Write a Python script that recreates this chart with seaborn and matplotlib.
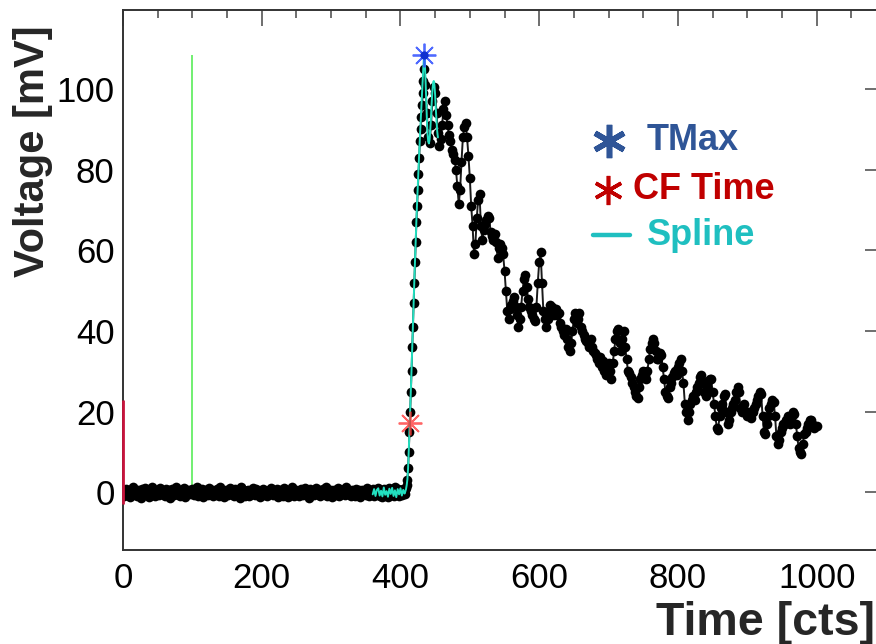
import numpy as np
import pandas as pd
import matplotlib
matplotlib.use("Agg")
import matplotlib.pyplot as plt
import seaborn as sns

# ---------------- data ----------------
# baseline samples, t = 0..406 step 2
baseline_v = [
    0.2, -0.8, 0.9, -0.3, 0.6, -1.1, 0.4, 1.2, -0.5, 0.1,
    -0.9, 0.7, 0.3, -1.4, 0.8, -0.2, 1.0, -0.6, 0.2, -1.2,
    0.5, 1.3, -0.4, -0.9, 0.6, 0.1, -0.7, 1.1, -0.3, 0.4,
    -1.0, 0.8, -0.1, 0.5, -1.3, 0.9, 0.2, -0.6, 1.4, -0.4,
    0.3, -0.8, 0.7, -0.2, 1.0, -1.1, 0.4, 0.6, -0.5, -0.1,
    0.9, -0.7, 0.2, 1.2, -0.9, 0.3, -0.4, 0.8, -1.2, 0.5,
    0.1, -0.6, 1.1, -0.3, 0.7, -1.0, 0.4, -0.2, 0.9, -0.8,
    1.3, -0.5, 0.2, -1.1, 0.6, 0.3, -0.7, 1.0, -0.4, 0.5,
    -0.9, 0.8, -0.1, 0.4, -1.3, 1.2, -0.2, 0.6, -0.8, 0.1,
    0.7, -1.0, 0.3, -0.5, 1.1, -0.6, 0.9, -0.3, 0.2, -1.2,
    0.4, 0.8, -0.6, 0.1, -1.0, 0.7, -0.2, 1.1, -0.7, 0.3,
    -0.4, 0.9, -1.2, 0.5, 0.2, -0.8, 1.0, -0.3, 0.6, -1.1,
    0.3, -0.5, 1.2, -0.9, 0.1, 0.7, -0.4, -1.0, 0.8, 0.2,
    -0.6, 1.1, -0.2, 0.5, -1.3, 0.9, -0.1, 0.4, -0.7, 1.0,
    -0.3, 0.6, -1.0, 0.2, 0.8, -0.5, 1.3, -0.8, 0.1, -0.4,
    0.7, -1.1, 0.5, 0.3, -0.6, 1.0, -0.9, 0.2, -0.2, 0.8,
    -0.7, 1.2, -0.4, 0.1, -1.0, 0.6, 0.4, -0.8, 0.9, -0.3,
    0.5, -1.2, 0.7, -0.1, 0.3, -0.6, 1.0, -0.9, 0.4, -0.5,
    0.8, -1.0, 0.6, -0.2, 1.1, -0.8, 0.3, -1.1, 0.9, -0.4,
    0.6, -1.2, 1.0, -0.6, 0.4, -0.9, 1.2, -0.5, 0.8, -1.0,
    0.5, -0.7, 0.9, -0.3,
]
# rising edge, t = 407..434 step 1
rise_v = [0.6, 1.0, 1.8, 3.0, 6.0, 10.0, 15.0, 20.0, 25.0, 30.0,
          36.0, 41.0, 47.0, 52.0, 57.0, 62.0, 67.0, 71.0, 75.0, 79.0,
          83.0, 87.0, 90.0, 93.0, 96.0, 99.0, 102.0, 105.0]
# tail, t = 436..1000 step 2
tail_v = [
    101, 94, 88, 86.5, 91, 97, 100.5, 99, 94, 89,
    86, 87.5, 91, 95, 97, 93.5, 91, 88.5, 87, 85,
    84, 82.5, 80, 76, 71.5, 75, 82, 88, 90.5, 91.5,
    88, 83.5, 78, 71, 66, 59, 61.5, 68, 72.5, 74,
    66, 62.5, 65, 66.5, 67.5, 68.5, 68, 64.5, 63.5, 62.5,
    64, 62, 58, 60.5, 61.5, 60.5, 59, 55, 50, 45,
    43, 45.5, 46.5, 47.5, 48.5, 46, 44, 41, 43, 46,
    50, 53, 54, 51, 48, 46, 45, 44, 43, 42.5,
    46, 52, 57, 59.5, 52, 45, 43, 41, 43, 45,
    46.5, 46, 45, 44, 45.5, 44, 44.5, 42, 41, 40,
    39, 40.5, 38, 36, 35, 37, 40, 43, 44.5, 42,
    43, 44.5, 41, 40, 39, 38, 37.5, 37, 36, 38,
    36, 35, 34.5, 34, 33, 32, 33.5, 31, 32.5, 30,
    29, 30.5, 32, 30, 28, 32, 35, 38, 40, 40.5,
    37, 35, 38, 40, 36, 33, 30, 29.5, 28.5, 27,
    26, 25, 24, 23.5, 26, 28, 29, 30, 29, 28,
    30, 33, 35.5, 37, 38, 37, 35, 33, 33, 34.5,
    34, 31, 28, 25, 24, 23.5, 26, 27, 28.5, 29.5,
    30, 29, 31, 32, 33, 30, 27, 22, 20, 18,
    20, 22, 23, 24, 23, 25, 26, 27, 28.5, 29,
    27, 25, 24, 26, 27.5, 28, 28, 25, 22, 19,
    16, 15.5, 19, 21, 22, 24, 24.5, 20, 17, 18,
    20, 21, 22, 23, 25, 26, 25, 21, 20, 21,
    22, 20, 19, 20, 19, 18.5, 20, 21, 22, 23,
    24, 25, 24.5, 19, 15, 14.5, 17, 19, 21, 22,
    23, 22.5, 19, 14, 12, 13, 15, 16, 17, 17,
    18, 19, 18, 17, 19, 20, 19.5, 17, 14, 11,
    10, 9.5, 12, 14.5, 15, 16, 17, 18, 18, 17,
    16, 16.5, 16.5,
]
baseline_t = np.arange(0, 2 * len(baseline_v), 2)
rise_t = np.arange(407, 407 + len(rise_v))
tail_t = np.arange(436, 436 + 2 * len(tail_v), 2)

# spline fit around the pulse
spline_t = [360, 362, 364, 366, 368, 370, 372, 374, 376, 378, 380, 382, 384,
            386, 388, 390, 392, 394, 396, 398, 400, 402, 404, 406,
            407, 408, 409, 410, 411, 412, 413, 414, 415, 416, 417, 418, 419,
            420, 421, 422, 423, 424, 425, 426, 427, 428, 429, 430, 431, 432,
            433, 434, 435, 436, 437, 438, 439, 440, 441, 442, 443, 444, 445,
            446, 447, 448, 449, 450, 451, 452, 453, 454]
spline_v = [-0.5, 0.8, -0.9, 0.6, 1.0, -0.8, 0.4, -1.0, 1.2, -0.6, 0.3, -1.1,
            0.9, -0.4, 1.1, -0.9, 0.5, -1.2, 0.8, -0.5, 1.0, -0.8, 0.6, -0.3,
            0.2, 0.8, 1.8, 3.2, 6.0, 10.5, 15.5, 20.5, 25.5, 30.5, 36.0, 41.5,
            47.0, 52.5, 57.5, 62.5, 67.5, 72.0, 76.0, 80.0, 84.0, 88.0, 91.5,
            95.0, 98.5, 102.0, 105.5, 108.4, 107.0, 103.0, 98.0, 93.0, 89.0,
            87.0, 86.5, 87.5, 90.0, 93.0, 96.5, 99.5, 101.5, 102.0, 101.0,
            98.5, 95.0, 92.0, 89.5, 88.0]

tmax_t, tmax_v = 434.0, 108.4
cf_t, cf_v = 413.4, 17.2
window_t, window_top = 100.0, 108.5
start_t, start_lo, start_hi = 0.0, -3.0, 23.0

legend_labels = ["TMax", "CF Time", "Spline"]
xlabel = "Time [cts]"
ylabel = "Voltage [mV]"

# ---------------- plotting ----------------
sns.set_theme(style="white")
plt.rcParams["font.family"] = ["Liberation Sans", "DejaVu Sans"]

fig = plt.figure(figsize=(8.76, 6.44), dpi=100)
ax = fig.add_axes([123 / 876, 1 - 550 / 644, (886 - 123) / 876, 540 / 644])

df = pd.DataFrame({
    "t": np.concatenate([baseline_t, rise_t, tail_t]),
    "v": np.concatenate([baseline_v, rise_v, tail_v]),
})
sns.lineplot(data=df, x="t", y="v", sort=False, estimator=None, ax=ax,
             color="#1a1a1a", lw=1.4, marker="o", markersize=7.0,
             markerfacecolor="black", markeredgecolor="black",
             markeredgewidth=0, zorder=3)

spl = pd.DataFrame({"t": spline_t, "v": spline_v})
sns.lineplot(data=spl, x="t", y="v", sort=False, estimator=None, ax=ax,
             color="#22e0c0", lw=1.4, zorder=4)

ax.vlines(window_t, 0, window_top, color="#66ee66", lw=1.3, zorder=2)
ax.vlines(start_t, start_lo, start_hi, color="#c8143c", lw=2.0, zorder=8,
          clip_on=False)

ax.plot([tmax_t], [tmax_v], marker=(8, 2, 0), markersize=17, mew=1.3,
        color="#3050ff", alpha=0.85, zorder=6, linestyle="none")
ax.plot([tmax_t], [tmax_v], marker="o", markersize=5, color="#1030d0",
        zorder=7, linestyle="none")
ax.plot([cf_t], [cf_v], marker=(8, 2, 0), markersize=17, mew=1.3,
        color="#ff3030", alpha=0.75, zorder=6, linestyle="none")

ax.set_xlim(0, 1100)
ax.set_ylim(-14.3, 119.6)
ax.set_xticks(np.arange(0, 1001, 200))
ax.set_xticks(np.arange(0, 1101, 50), minor=True)
ax.set_yticks(np.arange(0, 101, 20))
ax.set_yticks(np.arange(-10, 120, 5), minor=True)
ax.set_xlabel("")
ax.set_ylabel("")

ax.tick_params(axis="both", which="both", direction="in", top=True, right=True,
               colors="#555555", labelcolor="black", labelsize=25, width=1.2)
ax.tick_params(axis="x", which="major", length=11.5, pad=9)
ax.tick_params(axis="x", which="minor", length=5.5)
ax.tick_params(axis="y", which="major", length=15, pad=6)
ax.tick_params(axis="y", which="minor", length=7)
for s in ax.spines.values():
    s.set_color("#333333")
    s.set_linewidth(1.4)

# legend drawn as annotations
ax.plot([0.6365], [0.758], transform=ax.transAxes, marker=(6, 2, 0),
        markersize=24, mew=4.0, color="#2f5597", linestyle="none", clip_on=False)
ax.text(0.6860, 0.758, legend_labels[0], transform=ax.transAxes, color="#2f5597",
        fontsize=26, fontweight="bold", va="center", ha="left")
ax.plot([0.635], [0.667], transform=ax.transAxes, marker=(6, 2, 0),
        markersize=21, mew=2.6, color="#c00000", linestyle="none", clip_on=False)
ax.text(0.6690, 0.667, legend_labels[1], transform=ax.transAxes, color="#c00000",
        fontsize=26, fontweight="bold", va="center", ha="left")
ax.plot([0.6155, 0.6645], [0.583, 0.583], transform=ax.transAxes,
        color="#1fbfc0", lw=3.2, clip_on=False)
ax.text(0.6870, 0.583, legend_labels[2], transform=ax.transAxes, color="#1fbfc0",
        fontsize=26, fontweight="bold", va="center", ha="left")

fig.text(875 / 876, 1 - 635 / 644, xlabel, ha="right", va="baseline",
         fontsize=33.5, fontweight="bold")
fig.text(33 / 876, 1 - 25 / 644, ylabel, ha="center", va="top", rotation=90,
         fontsize=30, fontweight="bold")

fig.savefig("out.png", dpi=100)
